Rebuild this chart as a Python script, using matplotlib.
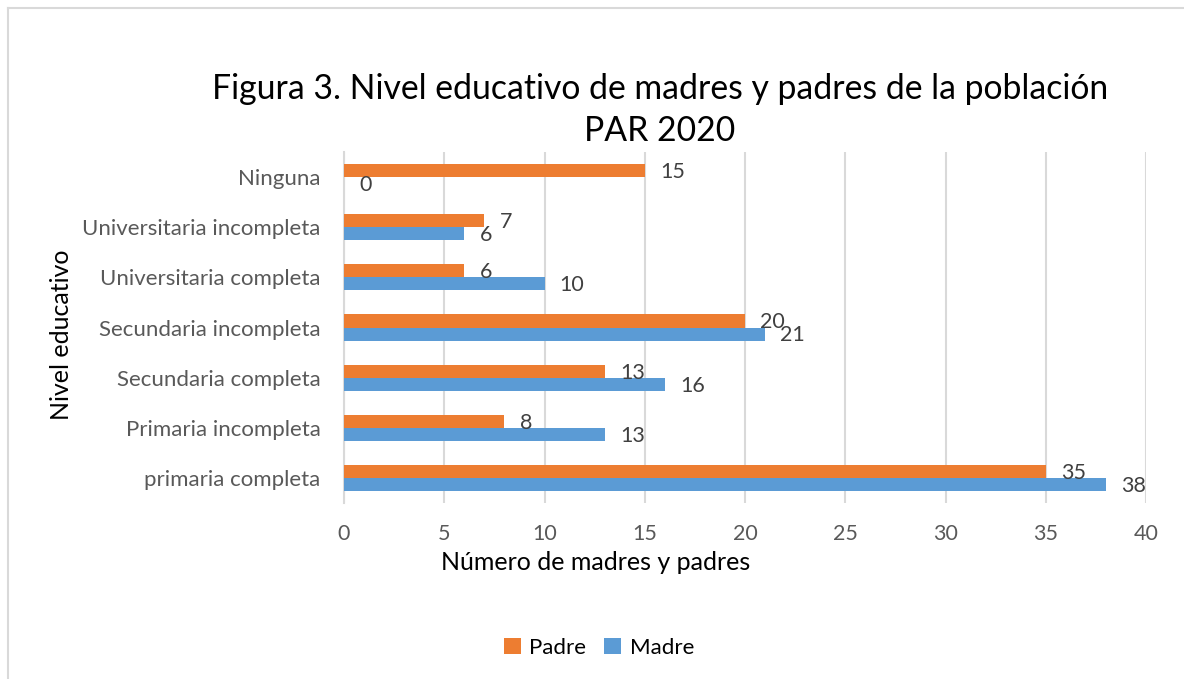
import matplotlib
matplotlib.use('Agg')
import matplotlib.pyplot as plt
import numpy as np
from matplotlib.lines import Line2D

plt.rcParams['font.family'] = ['Lato', 'DejaVu Sans']

# Data (top to bottom as shown)
categories = ['Ninguna', 'Universitaria incompleta', 'Universitaria completa',
              'Secundaria incompleta', 'Secundaria completa',
              'Primaria incompleta', 'primaria completa']
padre = [15, 7, 6, 20, 13, 8, 35]
madre = [0, 6, 10, 21, 16, 13, 38]

ORANGE = '#ED7D31'
BLUE = '#5B9BD5'
GRID = '#D9D9D9'
TICK = '#595959'
LABEL = '#404040'

fig = plt.figure(figsize=(11.84, 6.79), dpi=100)
fig.patch.set_facecolor('white')

# light chart border (top and left visible)
fig.add_artist(Line2D([8/1184, 1], [1 - 8/679, 1 - 8/679], color=GRID, lw=1.5,
                      transform=fig.transFigure))
fig.add_artist(Line2D([8/1184, 8/1184], [0, 1 - 8/679], color=GRID, lw=1.5,
                      transform=fig.transFigure))

ax = fig.add_axes([344/1184, 1 - 503/679, (1146 - 344)/1184, (503 - 152)/679])

y = np.arange(len(categories))
h = 0.26
ax.barh(y - h/2, padre, height=h, color=ORANGE, label='Padre', zorder=3)
ax.barh(y + h/2, madre, height=h, color=BLUE, label='Madre', zorder=3)

for yi, v in zip(y, padre):
    ax.annotate(str(v), (v, yi - h/2), xytext=(11, -1), textcoords='offset points',
                ha='left', va='center', fontsize=15.5, color=LABEL)
for yi, v in zip(y, madre):
    ax.annotate(str(v), (v, yi + h/2), xytext=(11, -1), textcoords='offset points',
                ha='left', va='center', fontsize=15.5, color=LABEL)

ax.set_xlim(0, 40)
ax.set_ylim(len(categories) - 0.5, -0.5)
ax.set_xticks(range(0, 41, 5))
ax.set_yticks(y)
ax.set_yticklabels(categories)
ax.tick_params(axis='both', length=0, labelsize=15.5, colors=TICK)
ax.tick_params(axis='y', labelsize=16, pad=17)
ax.tick_params(axis='x', pad=15)
ax.grid(axis='x', color=GRID, lw=1.5, zorder=0)
for s in ['top', 'right', 'bottom']:
    ax.spines[s].set_visible(False)
ax.spines['left'].set_color(GRID)
ax.spines['left'].set_linewidth(1.5)

ax.set_xlabel('Número de madres y padres', fontsize=18, color='black', va='center')
ax.xaxis.set_label_coords((596 - 344)/(1146 - 344), -(562 - 503)/(503 - 152))
ax.set_ylabel('Nivel educativo', fontsize=18, color='black', va='center')
ax.yaxis.set_label_coords(-(344 - 62)/(1146 - 344), 0.5 - (335 - 327.5)/(503 - 152))

fig.text(660/1184, 1 - 110/679,
         'Figura 3. Nivel educativo de madres y padres de la población\nPAR 2020',
         ha='center', va='center', fontsize=24.3, color='black', linespacing=1.42)

fig.legend(loc='center', bbox_to_anchor=(599/1184, 1 - 648/679), ncol=2,
           frameon=False, fontsize=16, handlelength=0.75, handleheight=0.75,
           columnspacing=0.8, handletextpad=0.4)

fig.savefig('out.png', dpi=100, facecolor='white')
